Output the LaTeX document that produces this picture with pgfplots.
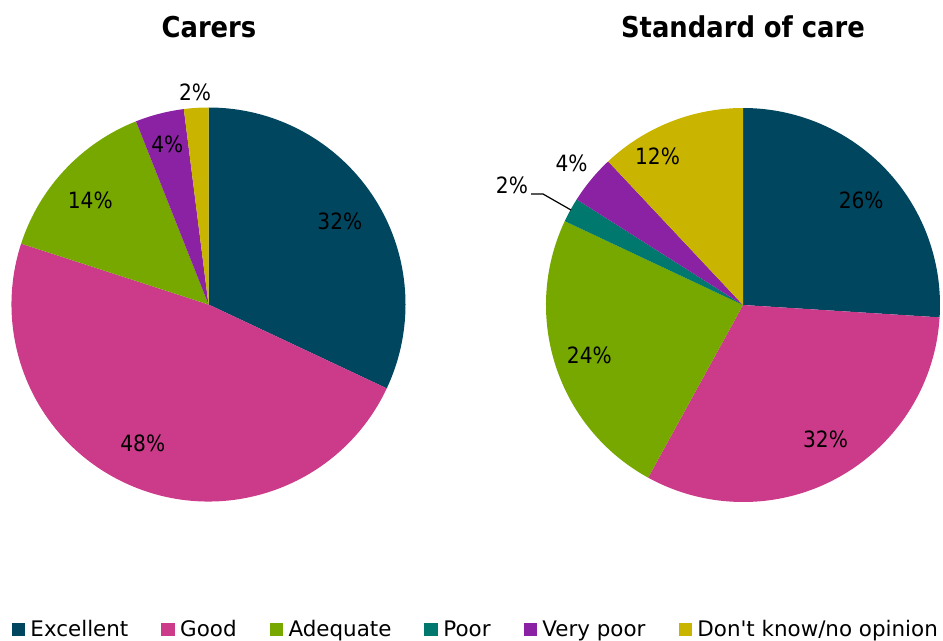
\documentclass[border=0pt]{standalone}
\usepackage{fontspec}
\setmainfont{DejaVu Sans Condensed}
\newfontfamily\legfont{DejaVu Sans}
\usepackage{pgfplots}
\usepackage{pgfplotstable}
\pgfplotsset{compat=1.18}

\definecolor{c0}{HTML}{00465F}
\definecolor{c1}{HTML}{CC3A8A}
\definecolor{c2}{HTML}{76A800}
\definecolor{c3}{HTML}{00786E}
\definecolor{c4}{HTML}{8B22A4}
\definecolor{c5}{HTML}{C9B400}

% p = percentage, lr = label radius (fraction of pie radius), da = label angle shift
\pgfplotstableread{
cat p lr da
Excellent 32 0.79 0
Good 48 0.78 -3.7
Adequate 14 0.80 1.8
Poor 0 0.8 0
VeryPoor 4 0.84 0
DontKnow 2 1.08 0
}\carers

\pgfplotstableread{
cat p lr da
Excellent 26 0.80 -1.8
Good 32 0.80 2.8
Adequate 24 0.82 0
Poor 2 1.32 1.5
VeryPoor 4 1.13 0
DontKnow 12 0.87 8.3
}\standard

\tikzset{lbl/.style={font=\fontsize{22.5}{26}\selectfont, inner sep=0pt}}

\newcommand\drawpie[4]{%
  \gdef\cum{0}%
  \pgfplotsforeachungrouped \i in {0,...,5}{%
    \pgfplotstablegetelem{\i}{p}\of#1\let\p\pgfplotsretval
    \pgfmathsetmacro\sa{90-3.6*\cum}%
    \pgfmathsetmacro\ea{90-3.6*(\cum+\p)}%
    \ifdim\p pt>0pt
      \fill[c\i] (axis cs:#2,#3) -- ++(\sa:#4bp) arc[start angle=\sa,end angle=\ea,radius=#4bp] -- cycle;
    \fi
    \pgfmathsetmacro\cum{\cum+\p}\global\let\cum\cum
  }%
  \gdef\cum{0}%
  \pgfplotsforeachungrouped \i in {0,...,5}{%
    \pgfplotstablegetelem{\i}{p}\of#1\let\p\pgfplotsretval
    \pgfplotstablegetelem{\i}{lr}\of#1\let\lr\pgfplotsretval
    \pgfplotstablegetelem{\i}{da}\of#1\let\da\pgfplotsretval
    \pgfmathsetmacro\ma{90-3.6*(\cum+\p/2)+\da}%
    \pgfmathsetmacro\lrad{\lr*#4}%
    \ifdim\p pt>0pt
      \node[lbl, shift={(\ma:\lrad bp)}] at (axis cs:#2,#3) {\p\%};
    \fi
    \pgfmathsetmacro\cum{\cum+\p}\global\let\cum\cum
  }%
}

\pgfplotsset{sq/.style={legend image code/.code={\fill[#1] (0bp,-6.5bp) rectangle (12.5bp,6bp); \path (15.5bp,0bp);}}}

\begin{document}
\begin{tikzpicture}
\useasboundingbox (0,0) rectangle (943bp,641bp);
\begin{axis}[
  at={(0,0)}, anchor=south west,
  width=943bp, height=641bp, scale only axis,
  xmin=0, xmax=943, ymin=0, ymax=641, y dir=reverse,
  hide axis, clip=false,
  legend columns=6,
  legend style={at={(0.505,0.0187)}, anchor=center, draw=none, fill=none,
    font=\legfont\fontsize{21.5}{24}\selectfont,
    /tikz/every even column/.append style={column sep=30bp},
    nodes={inner sep=3bp}},
]
\addlegendimage{sq=c0}
\addlegendentry{Excellent}
\addlegendimage{sq=c1}
\addlegendentry{Good}
\addlegendimage{sq=c2}
\addlegendentry{Adequate}
\addlegendimage{sq=c3}
\addlegendentry{Poor}
\addlegendimage{sq=c4}
\addlegendentry{Very poor}
\addlegendimage{sq=c5}
\addlegendentry{Don\textquotesingle t know/no opinion}

\pgfplotsextra{\drawpie{\carers}{208.5}{304.5}{197}\drawpie{\standard}{743}{305}{197}}
\draw[line width=1.2bp] (axis cs:531,194) -- (axis cs:543,194) -- (axis cs:571,210);

\node[font=\bfseries\fontsize{28.8}{34}\selectfont] at (axis cs:209,27) {Carers};
\node[font=\bfseries\fontsize{28.8}{34}\selectfont] at (axis cs:743,27) {Standard of care};
\end{axis}
\end{tikzpicture}
\end{document}
